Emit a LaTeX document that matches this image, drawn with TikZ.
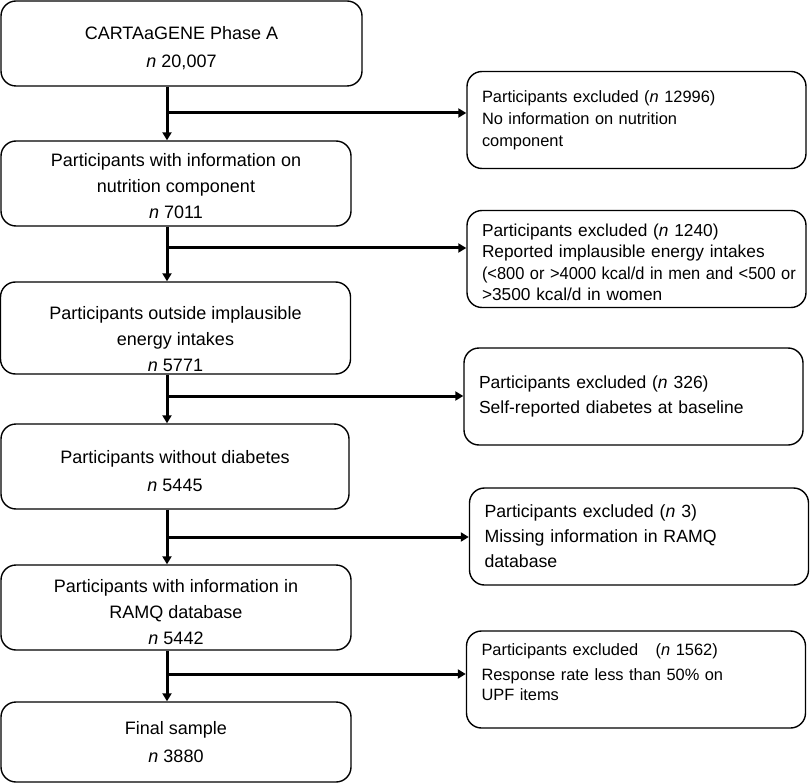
\documentclass[tikz,border=0pt]{standalone}
\usepackage{graphicx}
\usepackage{fontspec}
\setmainfont{Liberation Sans}
\usetikzlibrary{calc,arrows.meta}
\definecolor{ink}{HTML}{000000}
\newcommand{\pad}[1]{\rule{0pt}{#1}}
\newcommand{\drop}[1]{\rule[-#1]{0pt}{#1}}
\tikzset{
  stage/.style={draw=ink, line width=1.4pt, rounded corners=15pt, minimum width=350pt, minimum height=85pt, align=center, inner sep=0pt, font=\fontsize{18}{26}\selectfont},
  excl/.style={draw=ink, line width=1.4pt, rounded corners=15pt, text width=309pt, minimum height=97pt, align=left, inner xsep=15pt, inner ysep=0pt},
  flow/.style={draw=ink, line width=3pt, -{Triangle[length=8pt,width=9pt]}},
}

\begin{document}
\begin{tikzpicture}[x=1pt, y=-1pt]
  \useasboundingbox (0,0) rectangle (810,783);

  % main column
  \node[stage, minimum width=361pt, font=\fontsize{18}{28}\selectfont] (b1) at (181.5,43.5) {\pad{23pt}CARTAaGENE Phase A\\\textit{n} 20,007};
  \node[stage] (b2) at (176,183.5) {\pad{19pt}Participants with information on\\nutrition component\\\textit{n} 7011};
  \node[stage, minimum height=92pt] (b3) at (175.5,328) {\pad{35pt}Participants outside implausible\\energy intakes\\\textit{n} 5771};
  \node[stage, minimum width=348pt, font=\fontsize{18}{28}\selectfont] (b4) at (175,466.5) {\pad{23pt}Participants without diabetes\\\textit{n} 5445};
  \node[stage] (b5) at (176,607.5) {\pad{23pt}Participants with information in\\RAMQ database\\\textit{n} 5442};
  \node[stage, minimum height=80pt, font=\fontsize{18}{28}\selectfont] (b6) at (176,742) {Final sample\\\textit{n} 3880};

  % exclusions
  \node[excl, font=\fontsize{16.4}{22}\selectfont] (r1) at (636.5,120) {Participants excluded (\textit{n} 12996)\\No information on nutrition\\component};
  \node[excl, font=\fontsize{17.3}{21.5}\selectfont] (r2) at (636.5,259) {\pad{19pt}Participants excluded (\textit{n} 1240)\\Reported implausible energy intakes\\\scalebox{0.95}[1]{(<800 or >4000 kcal/d in men and <500 or}\\>3500 kcal/d in women};
  \node[excl, font=\fontsize{17.5}{25}\selectfont] (r3) at (633.5,396.5) {Participants excluded (\textit{n} 326)\\Self-reported diabetes at baseline};
  \node[excl, font=\fontsize{17.7}{25}\selectfont] (r4) at (639,536.5) {Participants excluded (\textit{n} 3)\\Missing information in RAMQ\\database};
  \node[excl, font=\fontsize{16.4}{20}\selectfont] (r5) at (636,679.5) {Participants excluded\hspace{12pt} (\textit{n} 1562)\\[5pt]Response rate less than 50\% on\\UPF items\drop{14pt}};

  % spine and branch points
  \coordinate (sp) at (167,0);
  \coordinate (j1) at (167,113);
  \coordinate (j2) at (167,248);
  \coordinate (j3) at (167,396);
  \coordinate (j4) at (167,537);
  \coordinate (j5) at (167,674);

  \draw[flow] (b1.south -| sp) -- (b2.north -| sp);
  \draw[flow] (b2.south -| sp) -- (b3.north -| sp);
  \draw[flow] (b3.south -| sp) -- (b4.north -| sp);
  \draw[flow] (b4.south -| sp) -- (b5.north -| sp);
  \draw[flow] (b5.south -| sp) -- (b6.north -| sp);

  \draw[flow] (j1) -- (j1 -| r1.west);
  \draw[flow] (j2) -- (j2 -| r2.west);
  \draw[flow] (j3) -- (j3 -| r3.west);
  \draw[flow] (j4) -- (j4 -| r4.west);
  \draw[flow] (j5) -- (j5 -| r5.west);
\end{tikzpicture}
\end{document}
